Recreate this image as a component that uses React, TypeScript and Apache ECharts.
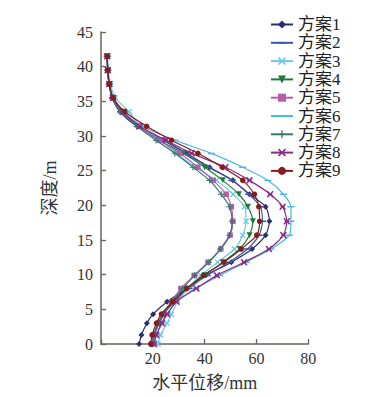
import React, { useEffect, useRef } from 'react';
import * as echarts from 'echarts';

const depths = [0, 1.3, 3, 4.3, 6.1, 8, 9.9, 11.8, 13.7, 15.7, 17.7, 19.8, 21.6, 23.6, 25.5, 27.5, 29.4, 31.4, 33.5, 35.5, 37.5, 39.5, 41.5];

const names = ['方案1', '方案2', '方案3', '方案4', '方案5', '方案6', '方案7', '方案8', '方案9'];

const plan1 = [14.7, 15.6, 17.7, 20.1, 25.5, 33, 40.5, 50.3, 58.3, 63.5, 65, 63.5, 57.3, 50.9, 41.9, 33, 24.5, 14, 7.3, 4.3, 3.1, 2.6, 2.4];
const plan2 = [19.5, 20.2, 22, 24, 28.3, 34, 41, 49.5, 56.5, 61, 62.3, 61.5, 57, 50.5, 41.5, 32.5, 24, 14.5, 7.8, 4.4, 3.2, 2.6, 2.4];
const plan3 = [22, 23, 25.5, 27.2, 29.5, 33.5, 38.5, 45, 51.5, 54.7, 56, 55.4, 51, 44.5, 36.5, 29, 23, 15, 10.9, 5.5, 3.6, 2.8, 2.5];
const plan4 = [19.8, 20.5, 22.3, 24.2, 28.2, 33.2, 40, 47, 53.5, 57.3, 58.6, 56.7, 53.2, 47, 40, 31.7, 22.5, 14.5, 8, 4.5, 3.2, 2.6, 2.4];
const plan5 = [19.8, 20.5, 22.5, 24.5, 27.2, 30.8, 36, 41.3, 46.2, 49.8, 50.9, 50.3, 48.3, 43.3, 37.4, 30.4, 22.5, 14.5, 8, 4.5, 3.2, 2.6, 2.4];
const plan6 = [20.5, 21.5, 23.5, 25.5, 29, 36.5, 45.8, 56, 65.6, 72.7, 73.3, 73.3, 70.4, 64.4, 54.7, 42.6, 28.5, 16, 8.5, 4.7, 3.3, 2.7, 2.4];
const plan7 = [20, 20.6, 22.4, 24.3, 27.5, 31.5, 36.2, 41.7, 46, 49.6, 50.6, 49.6, 46.4, 41.9, 35.5, 28.5, 21.2, 13.8, 7.5, 4.3, 3.1, 2.6, 2.4];
const plan8 = [20.5, 21.3, 23.5, 25.5, 29.1, 36.8, 44.7, 55.2, 64.8, 70.4, 71.7, 70.1, 65.3, 57.3, 48, 35, 25, 15, 8.5, 4.6, 3.2, 2.6, 2.4];
const plan9 = [19.2, 19.7, 21.4, 23.3, 27.6, 33, 39.5, 47.4, 54.1, 60.1, 61.2, 60.9, 59.2, 54.7, 46.8, 37.4, 27.2, 17.6, 9.2, 4.7, 3.2, 2.6, 2.4];

const xTicks = [0, 20, 40, 60, 80];
const yTicks = [0, 5, 10, 15, 20, 25, 30, 35, 40, 45];

const allValues = [plan1, plan2, plan3, plan4, plan5, plan6, plan7, plan8, plan9];

const colors = ['#2b2f6b', '#3d56a8', '#6cc8e0', '#1f7a3a', '#b45ea8', '#4ab8e8', '#2f7a72', '#8a2c86', '#861c1c'];

const X_SYM = 'path://M0,1.5 L1.5,0 L5,3.5 L8.5,0 L10,1.5 L6.5,5 L10,8.5 L8.5,10 L5,6.5 L1.5,10 L0,8.5 L3.5,5 Z';
const PLUS_SYM = 'path://M4.2,0 H5.8 V4.2 H10 V5.8 H5.8 V10 H4.2 V5.8 H0 V4.2 H4.2 Z';
const DASH_SYM = 'path://M0,0 L0.01,0 L0,0.01 Z M0,4 H10 V6.2 H0 Z M10,10 L9.99,10 L10,9.99 Z';
const STAR_X = 'path://M0,1.5 L1.5,0 L5,3.5 L8.5,0 L10,1.5 L6.5,5 L10,8.5 L8.5,10 L5,6.5 L1.5,10 L0,8.5 L3.5,5 Z M2,4 H8 V6 H2 Z';

const symbols = ['diamond', DASH_SYM, X_SYM, 'triangle', 'rect', DASH_SYM, PLUS_SYM, STAR_X, 'circle'];
const symbolSizes = [6, 7, 6, 6, 5.5, 7, 6.5, 7, 5.5];
const rotations = [0, 0, 0, 180, 0, 0, 0, 0, 0];

const FONT = "'Liberation Serif', 'Noto Sans CJK SC', serif";
const AXIS_COLOR = '#6b635d';

export default function App() {
  const ref = useRef<HTMLDivElement>(null);
  useEffect(() => {
    if (!ref.current) return;
    const chart = echarts.init(ref.current, undefined, { renderer: 'svg' });
    const series = allValues.map((vals, k) => ({
      name: names[k],
      type: 'line',
      data: depths.map((d, i) => [vals[i], d]),
      smooth: 0.25,
      symbol: symbols[k],
      symbolSize: symbolSizes[k],
      symbolRotate: rotations[k],
      showAllSymbol: true,
      lineStyle: { color: colors[k], width: 1.2 },
      itemStyle: { color: colors[k] },
      z: 2 + k,
    }));
    chart.setOption({
      animation: false,
      backgroundColor: '#ffffff',
      textStyle: { fontFamily: FONT },
      legend: {
        orient: 'vertical',
        left: 270,
        top: 16,
        padding: 0,
        itemWidth: 22,
        itemHeight: 10,
        itemGap: 1.3,
        data: names,
        textStyle: { fontFamily: FONT, fontSize: 17, lineHeight: 17, color: '#222' },
        lineStyle: { width: 2 },
      },
      grid: { left: 101, right: 68.7, top: 32, bottom: 49.5, containLabel: false },
      xAxis: {
        type: 'value',
        min: xTicks[0],
        max: xTicks[xTicks.length - 1],
        interval: 20,
        name: '水平位移/mm',
        nameLocation: 'middle',
        nameGap: 30,
        nameTextStyle: { fontFamily: FONT, fontSize: 18, color: '#333' },
        axisLine: { show: true, lineStyle: { color: AXIS_COLOR, width: 1.5 } },
        axisTick: { show: true, inside: true, length: 5, lineStyle: { color: AXIS_COLOR, width: 1.3 } },
        axisLabel: {
          fontFamily: FONT,
          fontSize: 16,
          color: '#333',
          margin: 6,
          formatter: (v: number) => (v === 0 ? '' : String(v)),
        },
        splitLine: { show: false },
      },
      yAxis: {
        type: 'value',
        min: yTicks[0],
        max: yTicks[yTicks.length - 1],
        interval: 5,
        name: '深度/m',
        nameLocation: 'middle',
        nameGap: 42,
        nameRotate: 90,
        nameTextStyle: { fontFamily: FONT, fontSize: 18, color: '#333' },
        axisLine: { show: true, lineStyle: { color: AXIS_COLOR, width: 1.5 } },
        axisTick: { show: true, inside: true, length: 5, lineStyle: { color: AXIS_COLOR, width: 1.3 } },
        axisLabel: { fontFamily: FONT, fontSize: 16, color: '#333', margin: 8 },
        splitLine: { show: false },
      },
      series,
    });
    return () => chart.dispose();
  }, []);
  return <div ref={ref} style={{ position: 'fixed', left: 0, top: 0, width: 377, height: 397 }} />;
}
